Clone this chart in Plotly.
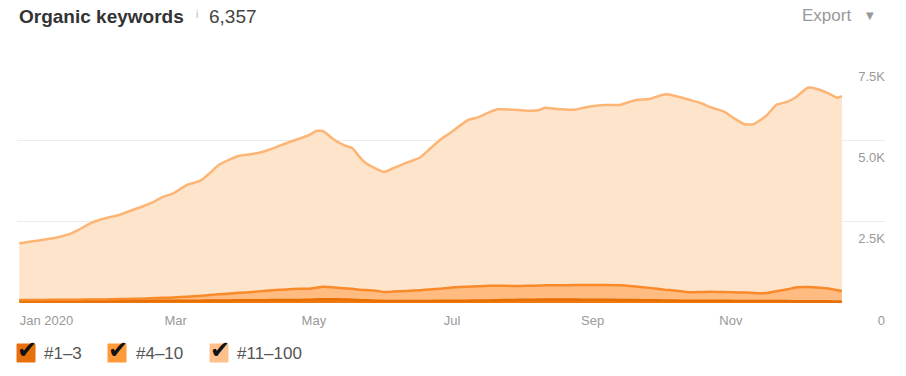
import plotly.graph_objects as go

# ---- data ----
dates = [
    "2019-12-23", "2020-01-02", "2020-01-10", "2020-01-14", "2020-01-18", "2020-01-24", "2020-01-30",
    "2020-02-05", "2020-02-11", "2020-02-17", "2020-02-21", "2020-02-24", "2020-02-29", "2020-03-06",
    "2020-03-12", "2020-03-16", "2020-03-20", "2020-03-25", "2020-03-29", "2020-04-04", "2020-04-10",
    "2020-04-16", "2020-04-20", "2020-04-25", "2020-04-29", "2020-05-02", "2020-05-05", "2020-05-09",
    "2020-05-14", "2020-05-18", "2020-05-21", "2020-05-24", "2020-05-29", "2020-06-01", "2020-06-05",
    "2020-06-11", "2020-06-17", "2020-06-21", "2020-06-26", "2020-06-30", "2020-07-08", "2020-07-12",
    "2020-07-17", "2020-07-21", "2020-07-28", "2020-08-03", "2020-08-09", "2020-08-11", "2020-08-16",
    "2020-08-24", "2020-08-30", "2020-09-06", "2020-09-13", "2020-09-20", "2020-09-26", "2020-10-03",
    "2020-10-07", "2020-10-14", "2020-10-19", "2020-10-23", "2020-10-29", "2020-11-02", "2020-11-07",
    "2020-11-11", "2020-11-14", "2020-11-17", "2020-11-21", "2020-11-26", "2020-11-30", "2020-12-05",
    "2020-12-09", "2020-12-14", "2020-12-18", "2020-12-20",
]

rank_1_3 = [
    60, 60, 60, 60, 60, 62, 62, 63, 65, 65,
    66, 67, 68, 70, 72, 75, 78, 80, 82, 85,
    88, 90, 92, 95, 100, 110, 115, 115, 110, 100,
    90, 85, 70, 62, 60, 60, 62, 65, 68, 70,
    72, 75, 80, 85, 95, 100, 105, 108, 108, 105,
    102, 100, 95, 90, 85, 80, 75, 70, 70, 68,
    66, 65, 63, 62, 60, 60, 60, 58, 55, 55,
    52, 50, 45, 40,
]

rank_4_10 = [
    32, 35, 38, 40, 43, 44, 48, 57, 63, 75,
    84, 91, 102, 125, 148, 171, 190, 210, 230, 255,
    287, 315, 333, 340, 340, 360, 385, 370, 345, 335,
    320, 313, 300, 278, 290, 312, 333, 350, 372, 400,
    428, 440, 452, 445, 430, 428, 433, 434, 437, 445,
    451, 450, 449, 415, 380, 330, 310, 260, 270, 279,
    272, 265, 257, 248, 240, 245, 300, 362, 428, 435,
    428, 395, 350, 329,
]

rank_11_100 = [
    1743, 1842, 1940, 2012, 2141, 2362, 2494, 2585, 2731, 2873,
    2985, 3091, 3202, 3432, 3540, 3741, 3974, 4127, 4216, 4240,
    4307, 4430, 4515, 4628, 4724, 4817, 4787, 4578, 4402, 4320,
    4087, 3896, 3740, 3687, 3791, 3941, 4084, 4310, 4592, 4747,
    5125, 5181, 5318, 5424, 5417, 5383, 5404, 5462, 5419, 5392,
    5481, 5537, 5543, 5735, 5806, 6005, 5987, 5910, 5799, 5669,
    5543, 5366, 5173, 5183, 5325, 5474, 5727, 5768, 5859, 6128,
    6098, 6001, 5916, 5988,
]

series_names = ["#1–3", "#4–10", "#11–100"]
x_tick_vals = ["2020-01-04", "2020-03-01", "2020-05-01", "2020-07-01", "2020-09-01", "2020-11-01"]
x_tick_text = ["Jan 2020", "Mar", "May", "Jul", "Sep", "Nov"]
y_tick_vals = [0, 2500, 5000, 7500]
y_tick_text = ["0", "2.5K", "5.0K", "7.5K"]
total_label = "6,357"

# ---- styles ----
line_colors = ["#e86e00", "#f88a2a", "#fdb575"]
fill_colors = ["#ef7a12", "#ffbb80", "#ffe4cc"]
box_colors = ["#e8700c", "#ff9a38", "#ffc08c"]
FONT = "Liberation Sans, Arial, sans-serif"

fig = go.Figure()
for name, vals, lc, fc in zip(series_names, [rank_1_3, rank_4_10, rank_11_100], line_colors, fill_colors):
    fig.add_trace(go.Scatter(
        x=dates, y=vals, name=name, stackgroup="one", mode="lines",
        line=dict(color=lc, width=2.5, shape="spline", smoothing=0.5),
        fillcolor=fc, hoverinfo="skip",
    ))

W, H = 906, 376
L, R, T, B = 17, 885, 59, 303


def px_x(p):
    return (p - L) / (R - L)


def px_y(p):
    return (B - p) / (B - T)


fig.update_layout(
    width=W, height=H,
    margin=dict(l=L, r=W - R, t=T, b=H - B),
    paper_bgcolor="white", plot_bgcolor="white",
    showlegend=False,
    font=dict(family=FONT, color="#999999", size=13),
    xaxis=dict(
        type="date", range=["2019-12-22", "2021-01-08"],
        tickvals=x_tick_vals, ticktext=x_tick_text,
        showgrid=False, zeroline=False, showline=False, ticks="",
        tickfont=dict(size=13, color="#999999"),
        ticklabelstandoff=8,
    ),
    yaxis=dict(
        range=[0, 7500], tickvals=y_tick_vals, ticktext=y_tick_text,
        side="left", anchor="free", position=1, automargin=False,
        showgrid=True, gridcolor="#ececec", gridwidth=1,
        zeroline=False, showline=False, ticks="",
        tickfont=dict(size=13, color="#999999"),
        ticklabelshift=17,
    ),
)

ann = []
ann.append(dict(text="<b>Organic keywords</b>", x=px_x(17), y=px_y(17), xref="paper", yref="paper",
                xanchor="left", yanchor="middle", showarrow=False,
                font=dict(size=19, color="#333333", family=FONT)))
ann.append(dict(text="i", x=px_x(194), y=px_y(14), xref="paper", yref="paper",
                xanchor="left", yanchor="middle", showarrow=False,
                font=dict(size=10, color="#b0b0b0", family=FONT)))
ann.append(dict(text=total_label, x=px_x(207), y=px_y(17), xref="paper", yref="paper",
                xanchor="left", yanchor="middle", showarrow=False,
                font=dict(size=19, color="#444444", family=FONT)))
ann.append(dict(text="Export", x=px_x(800), y=px_y(15), xref="paper", yref="paper",
                xanchor="left", yanchor="middle", showarrow=False,
                font=dict(size=17, color="#999999", family=FONT)))
ann.append(dict(text="▼", x=px_x(870), y=px_y(15), xref="paper", yref="paper",
                xanchor="center", yanchor="middle", showarrow=False,
                font=dict(size=10, color="#999999", family="DejaVu Sans")))

shapes = []
box_left = [17, 108, 210]
label_left = [42, 134, 235]
for name, bx, lx, bc in zip(series_names, box_left, label_left, box_colors):
    shapes.append(dict(type="rect", xref="paper", yref="paper",
                       x0=px_x(bx), x1=px_x(bx + 18), y0=px_y(362), y1=px_y(344),
                       fillcolor=bc, line=dict(color=bc, width=1)))
    ann.append(dict(text="✔", x=px_x(bx + 10), y=px_y(350), xref="paper", yref="paper",
                    xanchor="center", yanchor="middle", showarrow=False,
                    font=dict(size=24, color="#111111", family="DejaVu Sans")))
    ann.append(dict(text=name, x=px_x(lx), y=px_y(353), xref="paper", yref="paper",
                    xanchor="left", yanchor="middle", showarrow=False,
                    font=dict(size=17, color="#555555", family=FONT)))

fig.update_layout(annotations=ann, shapes=shapes)
fig.write_html("out.html", config={"displayModeBar": False},
               post_script="document.body.style.margin='0';")
